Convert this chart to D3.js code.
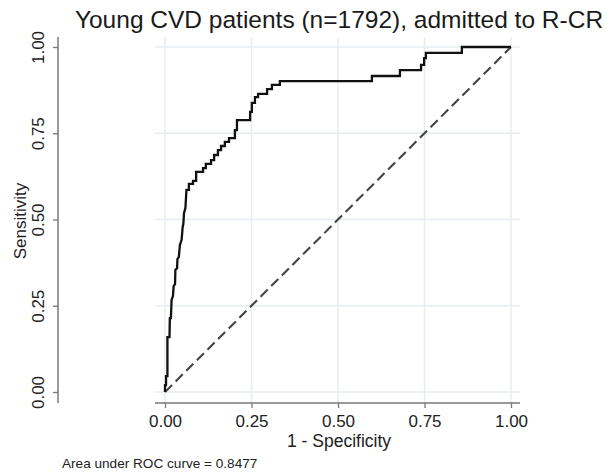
<!DOCTYPE html>
<html>
<head>
<meta charset="utf-8">
<script src="https://cdn.jsdelivr.net/npm/d3@7"></script>
<style>
  html, body { margin: 0; padding: 0; background: #fff; }
  svg { display: block; font-family: "Liberation Sans", Arial, Helvetica, sans-serif; }
</style>
</head>
<body>
<svg id="chart" width="607" height="475"></svg>
<script>
// ---- data ----
const titleText = "Young CVD patients (n=1792), admitted to R-CR";
const xLabel = "1 - Specificity";
const yLabel = "Sensitivity";
const aucNote = "Area under ROC curve = 0.8477";
const tickValues = [0, 0.25, 0.5, 0.75, 1];
const tickLabels = ["0.00", "0.25", "0.50", "0.75", "1.00"];

// ROC curve vertices (1 - specificity, sensitivity)
const fpr = [0, 0, 0.003, 0.003, 0.007, 0.007, 0.013, 0.014, 0.017, 0.019,
  0.023, 0.025, 0.029, 0.030, 0.035, 0.036, 0.040, 0.043, 0.048, 0.051,
  0.053, 0.055, 0.059, 0.062, 0.069, 0.069, 0.081, 0.081, 0.090, 0.090,
  0.110, 0.110, 0.118, 0.118, 0.133, 0.133, 0.142, 0.142, 0.153, 0.153,
  0.162, 0.162, 0.173, 0.173, 0.185, 0.185, 0.202, 0.202, 0.208, 0.208,
  0.246, 0.246, 0.251, 0.251, 0.260, 0.260, 0.269, 0.269, 0.295, 0.295,
  0.309, 0.309, 0.332, 0.332, 0.598, 0.598, 0.679, 0.679, 0.740, 0.740,
  0.749, 0.749, 0.754, 0.754, 0.858, 0.858, 1.0];
const tpr = [0, 0.020, 0.020, 0.046, 0.046, 0.159, 0.159, 0.214, 0.214, 0.267,
  0.278, 0.307, 0.313, 0.354, 0.359, 0.386, 0.391, 0.426, 0.441, 0.478,
  0.487, 0.519, 0.533, 0.586, 0.586, 0.603, 0.603, 0.612, 0.612, 0.638,
  0.638, 0.649, 0.649, 0.661, 0.661, 0.672, 0.672, 0.687, 0.687, 0.701,
  0.701, 0.713, 0.713, 0.725, 0.725, 0.736, 0.736, 0.759, 0.759, 0.788,
  0.788, 0.812, 0.812, 0.838, 0.838, 0.855, 0.855, 0.864, 0.864, 0.878,
  0.878, 0.890, 0.890, 0.901, 0.901, 0.916, 0.916, 0.933, 0.933, 0.948,
  0.948, 0.968, 0.968, 0.983, 0.983, 1.0, 1.0];
const refX = [0, 1];
const refY = [0, 1];

// ---- layout ----
const svg = d3.select("#chart");
const x = d3.scaleLinear().domain([0, 1]).range([165, 511]);
const y = d3.scaleLinear().domain([0, 1]).range([392, 47]);
const plotLeft = 155, plotRight = 520, plotTop = 37, plotBottom = 403;
const yAxisX = 58;

const gridColor = "#e6ecf1";
const axisColor = "#787878";

// gridlines
svg.append("g").selectAll("line.h").data(tickValues).join("line")
  .attr("x1", plotLeft).attr("x2", plotRight)
  .attr("y1", d => y(d)).attr("y2", d => y(d))
  .attr("stroke", gridColor).attr("stroke-width", 1.5);
svg.append("g").selectAll("line.v").data(tickValues).join("line")
  .attr("x1", d => x(d)).attr("x2", d => x(d))
  .attr("y1", plotTop).attr("y2", plotBottom)
  .attr("stroke", gridColor).attr("stroke-width", 1.5);

// x axis
const xAxis = d3.axisBottom(x).tickValues(tickValues)
  .tickFormat((d, i) => tickLabels[i]).tickSize(5).tickPadding(7);
const gx = svg.append("g").attr("transform", `translate(0,${plotBottom})`).call(xAxis);
gx.select(".domain").remove();
gx.append("line").attr("x1", plotLeft).attr("x2", plotRight).attr("y1", 0).attr("y2", 0)
  .attr("stroke", axisColor).attr("stroke-width", 1.5);
gx.selectAll(".tick line").attr("stroke", axisColor).attr("stroke-width", 1.3);
gx.selectAll(".tick text").attr("fill", "#222").style("font-size", "17px");

// y axis
const yAxis = d3.axisLeft(y).tickValues(tickValues)
  .tickFormat((d, i) => tickLabels[i]).tickSize(5).tickPadding(0);
const gy = svg.append("g").attr("transform", `translate(${yAxisX},0)`).call(yAxis);
gy.select(".domain").remove();
gy.append("line").attr("x1", 0).attr("x2", 0).attr("y1", plotTop).attr("y2", plotBottom)
  .attr("stroke", axisColor).attr("stroke-width", 1.5);
gy.selectAll(".tick line").attr("stroke", axisColor).attr("stroke-width", 1.3);
gy.selectAll(".tick text")
  .attr("x", 0).attr("y", 0).attr("dy", null)
  .attr("transform", "translate(-14,0) rotate(-90)")
  .attr("text-anchor", "middle")
  .attr("fill", "#222").style("font-size", "17px");

// reference diagonal
const refLine = d3.line().x(d => x(d[0])).y(d => y(d[1]));
svg.append("path")
  .attr("d", refLine(refX.map((v, i) => [v, refY[i]])))
  .attr("fill", "none").attr("stroke", "#444").attr("stroke-width", 2.1)
  .attr("stroke-dasharray", "10,5");

// ROC curve
const rocLine = d3.line().x(d => x(d[0])).y(d => y(d[1]));
svg.append("path")
  .attr("d", rocLine(fpr.map((v, i) => [v, tpr[i]])))
  .attr("fill", "none").attr("stroke", "#111").attr("stroke-width", 2.3)
  .attr("stroke-linejoin", "miter");

// title
svg.append("text").attr("x", 339).attr("y", 28).attr("text-anchor", "middle")
  .style("font-size", "24.5px").attr("fill", "#1a1a1a").text(titleText);

// axis titles
svg.append("text").attr("x", 339).attr("y", 447).attr("text-anchor", "middle")
  .style("font-size", "17.5px").attr("fill", "#222").text(xLabel);
svg.append("text").attr("transform", "translate(26,221) rotate(-90)")
  .attr("text-anchor", "middle").style("font-size", "17px").attr("fill", "#222").text(yLabel);

// note
svg.append("text").attr("x", 62).attr("y", 468)
  .style("font-size", "13.6px").attr("fill", "#222").text(aucNote);
</script>
</body>
</html>
